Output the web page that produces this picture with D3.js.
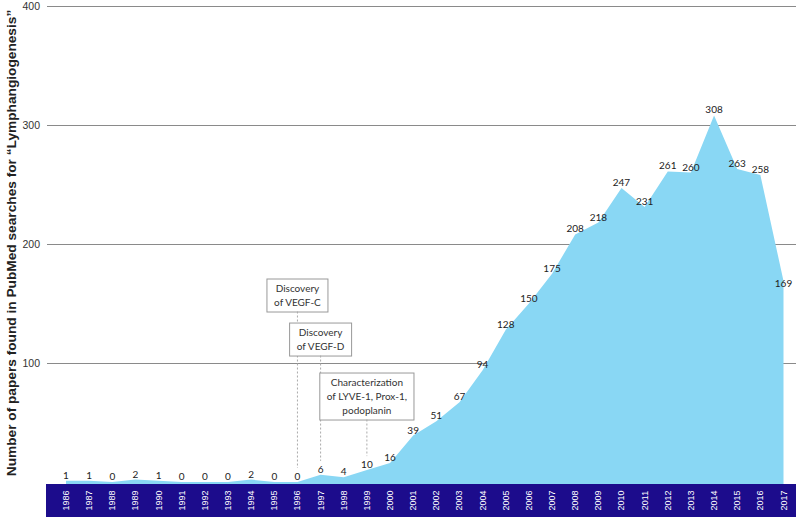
<!DOCTYPE html>
<html>
<head>
<meta charset="utf-8">
<script src="https://cdn.jsdelivr.net/npm/d3@7"></script>
<style>
  body { margin: 0; background: #fff; }
  .tick-label { font-family: "Liberation Sans", Arial, sans-serif; font-size: 10.5px; fill: #333; }
  .year-label { font-family: "Liberation Sans", Arial, sans-serif; font-size: 9px; fill: #fff; }
  .value-label { font-family: Lato, "Open Sans", sans-serif; font-size: 10px; fill: #222; }
  .note-text { font-family: Lato, "Open Sans", sans-serif; font-size: 10px; fill: #333; }
  .axis-title { font-family: "Liberation Sans", Arial, sans-serif; font-size: 13.7px; font-weight: bold; fill: #222; }
</style>
</head>
<body>
<div id="chart"></div>
<script>
// Data
var years = [1986, 1987, 1988, 1989, 1990, 1991, 1992, 1993, 1994, 1995, 1996,
    1997, 1998, 1999, 2000, 2001, 2002, 2003, 2004, 2005, 2006, 2007, 2008,
    2009, 2010, 2011, 2012, 2013, 2014, 2015, 2016, 2017];
var papers = [1, 1, 0, 2, 1, 0, 0, 0, 2, 0, 0,
    6, 4, 10, 16, 39, 51, 67, 94, 128, 150, 175, 208,
    218, 247, 231, 261, 260, 308, 263, 258, 169];
var yTicks = [100, 200, 300, 400];

var noteYears = [1996, 1997, 1999];
var noteLines = [
    ["Discovery", "of VEGF-C"],
    ["Discovery", "of VEGF-D"],
    ["Characterization", "of LYVE-1, Prox-1,", "podoplanin"]
];

var axisTitle = "Number of papers found in PubMed searches for \u201cLymphangiogenesis\u201d";

var svgWidth = 800;
var svgHeight = 525;

var data = years.map((d, i) => ({ year: d, value: papers[i] }));

var svg = d3.select("#chart").append("svg")
    .attr("width", svgWidth)
    .attr("height", svgHeight);

var xScale = d3.scaleLinear()
    .domain([d3.min(years), d3.max(years)])
    .range([66, 783.5]);

var yScale = d3.scaleLinear()
    .domain([0, 400])
    .range([482, 6]);

// gridlines + tick labels
var grid = svg.append("g");
grid.selectAll("line")
    .data(yTicks)
    .enter()
    .append("line")
    .attr("x1", 47)
    .attr("x2", 796)
    .attr("y1", d => Math.round(yScale(d)) + 0.5)
    .attr("y2", d => Math.round(yScale(d)) + 0.5)
    .attr("stroke", "#8a8a8a")
    .attr("stroke-width", 1);

grid.selectAll("text")
    .data(yTicks)
    .enter()
    .append("text")
    .attr("class", "tick-label")
    .attr("x", 40)
    .attr("y", d => yScale(d) + 4)
    .attr("text-anchor", "end")
    .text(d => d);

// area
var area = d3.area()
    .x(d => xScale(d.year))
    .y0(yScale(0) + 2)
    .y1(d => yScale(d.value));

svg.append("path")
    .datum(data)
    .attr("d", area)
    .attr("fill", "#89d7f4");

// year band
svg.append("rect")
    .attr("x", 46)
    .attr("y", 484)
    .attr("width", 750)
    .attr("height", 33)
    .attr("fill", "#1c0c8c");

svg.append("g").selectAll("text")
    .data(years)
    .enter()
    .append("text")
    .attr("class", "year-label")
    .attr("transform", d => `translate(${xScale(d) + 3}, 500.5) rotate(-90)`)
    .attr("text-anchor", "middle")
    .text(d => d);

// value labels
svg.append("g").selectAll("text")
    .data(data)
    .enter()
    .append("text")
    .attr("class", "value-label")
    .attr("x", d => xScale(d.year))
    .attr("y", (d, i) => i === data.length - 1 ? yScale(d.value) + 6 : yScale(d.value) - 2)
    .attr("text-anchor", "middle")
    .text(d => d.value);

// annotations: box top expressed on the value axis
var noteTops = [171, 134, 92];
var lineH = 14;
var notes = svg.append("g");
noteYears.forEach(function (yr, i) {
    var cx = xScale(yr);
    var lines = noteLines[i];
    var top = yScale(noteTops[i]);
    var g = notes.append("g");
    var txt = g.append("text")
        .attr("class", "note-text")
        .attr("text-anchor", "middle");
    lines.forEach(function (l, j) {
        txt.append("tspan")
            .attr("x", cx)
            .attr("y", top + 13.5 + j * lineH)
            .text(l);
    });
    var w = txt.node().getBBox().width + 14;
    var h = lines.length * lineH + 5;
    g.insert("rect", "text")
        .attr("x", cx - w / 2)
        .attr("y", top + 0.5)
        .attr("width", w)
        .attr("height", h)
        .attr("fill", "#fff")
        .attr("stroke", "#999")
        .attr("stroke-width", 1);
    var v = papers[years.indexOf(yr)];
    g.append("line")
        .attr("x1", cx)
        .attr("x2", cx)
        .attr("y1", top + h)
        .attr("y2", yScale(v) - 14)
        .attr("stroke", "#aaa")
        .attr("stroke-dasharray", "2,2");
});

// y axis title
svg.append("text")
    .attr("class", "axis-title")
    .attr("transform", "translate(16, 243) rotate(-90)")
    .attr("text-anchor", "middle")
    .text(axisTitle);
</script>
</body>
</html>
